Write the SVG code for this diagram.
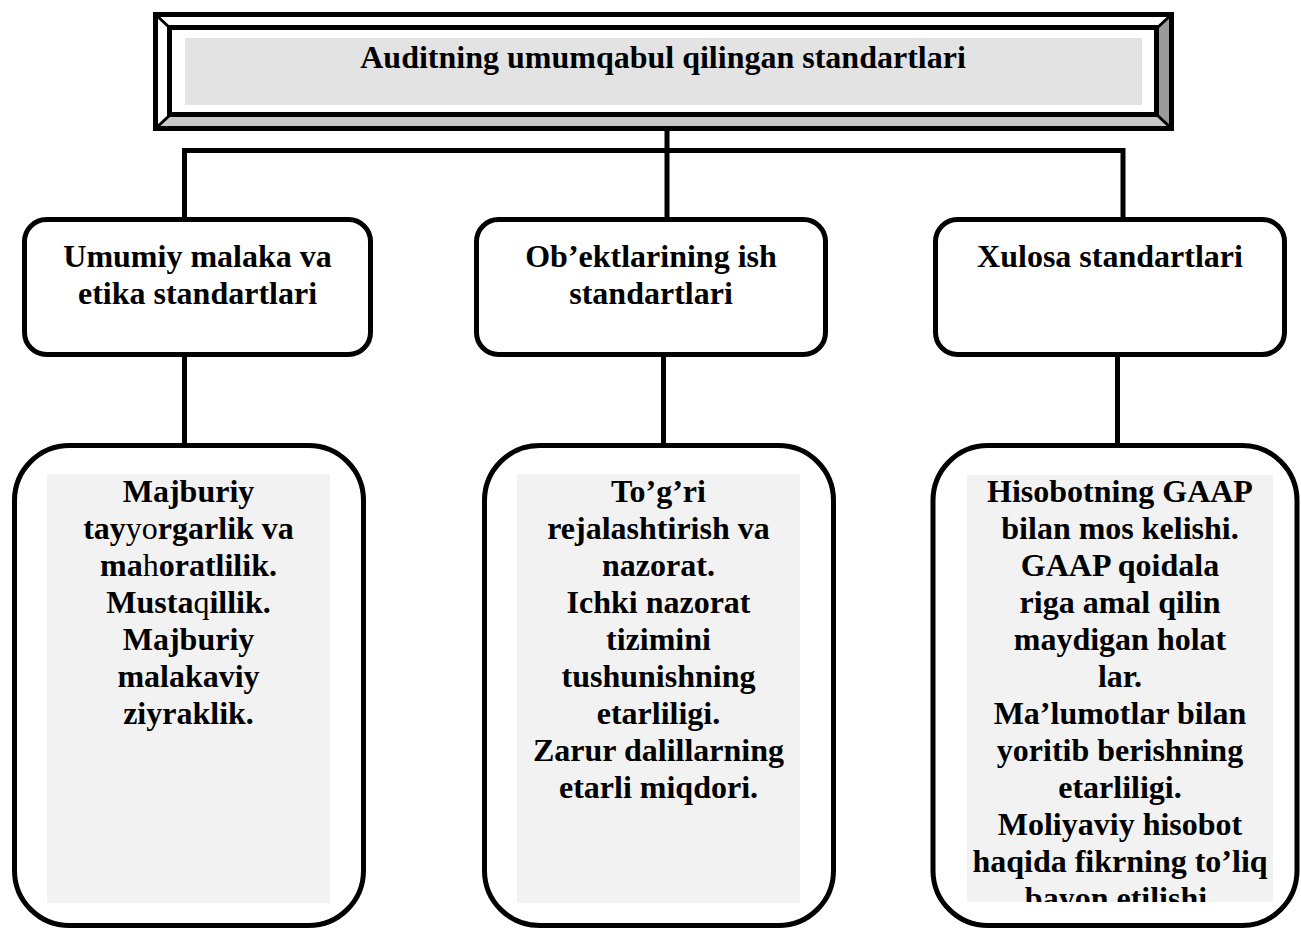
<svg xmlns="http://www.w3.org/2000/svg" width="1301" height="928" viewBox="0 0 1301 928">
<style>
text{font-family:"Liberation Serif","Times New Roman",serif;font-weight:bold;font-size:32px;fill:#000;text-anchor:middle}
.n{font-weight:normal}
.box{fill:#fff;stroke:#000;stroke-width:5}
.conn{stroke:#000;stroke-width:5;fill:none}
.panel{fill:#f2f2f2}
</style>
<defs>
<clipPath id="clip3"><rect x="967" y="475" width="306" height="427"/></clipPath>
</defs>
<rect width="1301" height="928" fill="#fff"/>

<g id="connectors">
<path class="conn" d="M667 131V219 M184.5 219V150.5H1123V219"/>
<path class="conn" d="M184.5 355V446 M663.5 355V446 M1117.5 355V446"/>
</g>

<g id="title">
<rect x="155.5" y="14.5" width="1016" height="114" fill="#fff"/>
<polygon points="158,126 1169,126 1159,117 167,117" fill="#c8c8c8"/>
<polygon points="1169,17 1169,126 1159,117 1159,25" fill="#9a9a9a"/>
<rect x="185" y="38" width="957" height="67" fill="#e3e3e3"/>
<path d="M156 15L170 28 M1171 15L1157 28 M156 128L170 115 M1171 128L1157 115" stroke="#000" stroke-width="3"/>
<rect x="155.5" y="14.5" width="1016" height="114" fill="none" stroke="#000" stroke-width="5"/>
<rect x="169.5" y="27.5" width="987" height="87" fill="none" stroke="#000" stroke-width="5"/>
<text x="663" y="68">Auditning umumqabul qilingan standartlari</text>
</g>

<g id="n1">
<rect class="box" x="24.5" y="219.5" width="346" height="135" rx="22"/>
<text x="197.5" y="267">Umumiy malaka va</text>
<text x="197.5" y="304">etika standartlari</text>
</g>
<g id="n2">
<rect class="box" x="476.5" y="219.5" width="349" height="135" rx="22"/>
<text x="651" y="267">Ob’ektlarining ish</text>
<text x="651" y="304">standartlari</text>
</g>
<g id="n3">
<rect class="box" x="935.5" y="219.5" width="349" height="135" rx="22"/>
<text x="1110" y="267">Xulosa standartlari</text>
</g>

<g id="d1">
<rect class="box" x="14.5" y="445.5" width="349" height="480" rx="55"/>
<rect class="panel" x="47" y="474" width="283" height="429"/>
<text x="188.5" y="502">Majburiy</text>
<text x="188.5" y="539">tay<tspan class="n">yo</tspan>rgarlik va</text>
<text x="188.5" y="576">ma<tspan class="n">h</tspan>oratlilik.</text>
<text x="188.5" y="613">Musta<tspan class="n">q</tspan>illik.</text>
<text x="188.5" y="650">Majburiy</text>
<text x="188.5" y="687">malakaviy</text>
<text x="188.5" y="724">ziyraklik.</text>
</g>

<g id="d2">
<rect class="box" x="484.5" y="445.5" width="349" height="480" rx="55"/>
<rect class="panel" x="517" y="474" width="283" height="429"/>
<text x="658.5" y="502">To’g’ri</text>
<text x="658.5" y="539">rejalashtirish va</text>
<text x="658.5" y="576">nazorat.</text>
<text x="658.5" y="613">Ichki nazorat</text>
<text x="658.5" y="650">tizimini</text>
<text x="658.5" y="687">tushunishning</text>
<text x="658.5" y="724">etarliligi.</text>
<text x="658.5" y="761">Zarur dalillarning</text>
<text x="658.5" y="798">etarli miqdori.</text>
</g>

<g id="d3">
<rect class="box" x="933" y="445.5" width="364" height="480" rx="55"/>
<rect class="panel" x="967" y="475" width="306" height="427"/>
<g clip-path="url(#clip3)">
<text x="1120" y="502">Hisobotning GAAP</text>
<text x="1120" y="539">bilan mos kelishi.</text>
<text x="1120" y="576">GAAP qoidala</text>
<text x="1120" y="613">riga amal qilin</text>
<text x="1120" y="650">maydigan holat</text>
<text x="1120" y="687">lar.</text>
<text x="1120" y="724">Ma’lumotlar bilan</text>
<text x="1120" y="761">yoritib berishning</text>
<text x="1120" y="798">etarliligi.</text>
<text x="1120" y="835">Moliyaviy hisobot</text>
<text x="1120" y="872">haqida fikrning to’liq</text>
<text x="1120" y="909">bayon etilishi.</text>
</g>
</g>
</svg>
